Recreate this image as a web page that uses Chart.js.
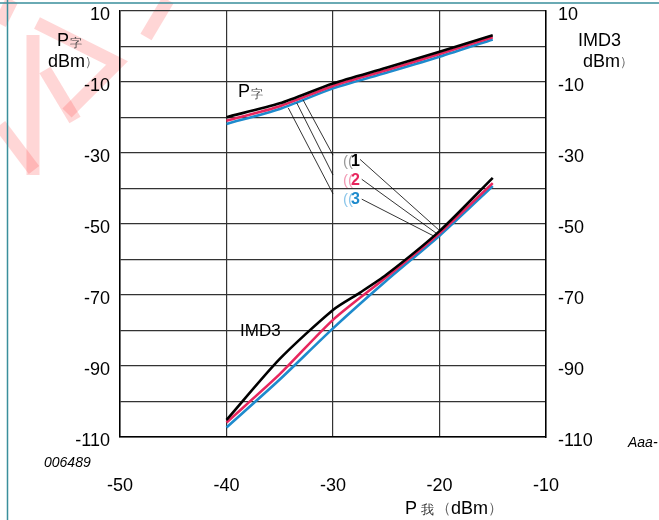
<!DOCTYPE html>
<html lang="zh">
<head>
<meta charset="UTF-8">
<title>Pout / IMD3 vs Pin</title>
<script src="https://cdn.jsdelivr.net/npm/chart.js@4"></script>
<style>
  body { margin: 0; background: #fff; }
</style>
</head>
<body>
<canvas id="chart" width="659" height="520"></canvas>
<script>
// P in (dBm)
const pinX = [-40, -35, -30, -25, -20, -15];
const pinXImd1 = [-40, -35, -30, -27.5, -25, -20, -15];

// Pout curves (1), (2), (3)
const pout1 = [-19.9, -16.0, -10.4, -6.0, -1.5, 3.2];
const pout2 = [-20.9, -16.8, -11.1, -6.7, -2.1, 2.6];
const pout3 = [-21.8, -17.6, -11.8, -7.4, -2.9, 2.0];

// IMD3 curves (1), (2), (3)
const imd1 = [-105.2, -88.0, -74.2, -69.4, -64.3, -52.0, -37.0];
const imd2 = [-105.9, -92.3, -77.0, -65.0, -52.6, -38.5];
const imd3 = [-107.3, -93.8, -79.4, -66.0, -53.3, -39.3];

const yTickLabels = [10, -10, -30, -50, -70, -90, -110];

// leader lines [x0, y0, x1, y1] in data units
const poutLeaders = [[-32.8, -15.1, -30, -30.6], [-33.4, -15.9, -30, -36.2], [-34.2, -17.3, -30, -41.5]];
const imdLeaders = [[-27.46, -31.8, -20.05, -51.7], [-27.3, -37.4, -20.3, -52.6], [-27.3, -43.0, -20.4, -53.6]];

const BLACK = '#000000', RED = '#e8265e', BLUE = '#1e8bcd';
const FONT = '"Liberation Sans", Arial, sans-serif';

const pts = (xs, ys) => xs.map((x, i) => ({ x: x, y: ys[i] }));
const curve = (data, color) => ({
    data: data, borderColor: color, borderWidth: 2.6, pointRadius: 0,
    tension: 0.25, fill: false
});
const leader = l => ({
    data: [{ x: l[0], y: l[1] }, { x: l[2], y: l[3] }],
    borderColor: '#000', borderWidth: 0.8, pointRadius: 0, fill: false
});
const noPad = s => { s.paddingTop = 0; s.paddingBottom = 0; s.paddingLeft = 0; s.paddingRight = 0; };

// text, frame and watermark
const extras = {
    id: 'extras',
    beforeDraw(chart) {
        const c = chart.ctx;
        c.save();
        c.fillStyle = '#fff';
        c.fillRect(0, 0, chart.width, chart.height);
        // watermark
        c.strokeStyle = 'rgba(255,70,70,0.22)';
        c.lineWidth = 13;
        c.lineCap = 'butt';
        const strokes = [
            [[37, 23], [117, 63], [67, 113]],
            [[168, 0], [146, 37]],
            [[12, 0], [0, 24]],
            [[33, 35], [33, 175]],
            [[0, 125], [34, 170]],
            [[45, 70], [75, 120]]
        ];
        strokes.forEach(s => {
            c.beginPath();
            c.moveTo(s[0][0], s[0][1]);
            for (let i = 1; i < s.length; i++) c.lineTo(s[i][0], s[i][1]);
            c.stroke();
        });
        // frame lines
        c.strokeStyle = '#3a8f9c';
        c.lineWidth = 1.5;
        c.beginPath();
        c.moveTo(0, 3); c.lineTo(chart.width, 3);
        c.moveTo(7.5, 0); c.lineTo(7.5, chart.height);
        c.stroke();
        c.restore();
    },
    afterDraw(chart) {
        const c = chart.ctx;
        c.save();
        c.textBaseline = 'middle';
        c.textAlign = 'left';
        const txt = (s, px, py, size, color, style) => {
            c.font = (style || '') + ' ' + size + 'px ' + FONT;
            c.fillStyle = color || '#000';
            c.fillText(s, px, py);
            return px + c.measureText(s).width;
        };
        // left axis title
        let e = txt('P', 57, 41, 18);
        txt('字', e + 1, 44, 12, '#444');
        e = txt('dBm', 48, 62, 18);
        txt('）', e, 62, 13, '#666');
        // right axis title
        txt('IMD3', 578, 41, 18);
        e = txt('dBm', 583, 62, 18);
        txt('）', e, 62, 13, '#666');
        // curve labels
        e = txt('P', 238, 92, 18);
        txt('字', e + 1, 95, 12, '#444');
        txt('IMD3', 240, 331, 17);
        // callouts
        const callout = [['1', BLACK, '#999'], ['2', RED, '#f29ab4'], ['3', BLUE, '#8cc6ea']];
        callout.forEach((k, i) => {
            const py = 162 + i * 19;
            e = txt('((', 343, py, 15, k[2]);
            txt(k[0], e - 2, py, 16, k[1], 'bold');
        });
        // figure id
        txt('Aaa-', 628, 443, 14, '#000', 'italic');
        txt('006489', 44, 463, 14, '#000', 'italic');
        // x axis title
        e = txt('P', 405, 509, 18);
        e = txt('我', e + 4, 510, 13, '#333');
        e = txt('（', e + 2, 509, 15, '#666');
        e = txt('dBm', e, 509, 18);
        txt('）', e, 509, 15, '#666');
        c.restore();
    }
};

new Chart(document.getElementById('chart'), {
    type: 'line',
    data: {
        datasets: [
            ...poutLeaders.map(leader),
            ...imdLeaders.map(leader),
            curve(pts(pinX, pout1), BLACK),
            curve(pts(pinXImd1, imd1), BLACK),
            curve(pts(pinX, pout2), RED),
            curve(pts(pinX, imd2), RED),
            curve(pts(pinX, pout3), BLUE),
            curve(pts(pinX, imd3), BLUE)
        ]
    },
    options: {
        responsive: false,
        animation: false,
        devicePixelRatio: 1,
        layout: { padding: { top: 11, right: 0, left: 0, bottom: 0 } },
        plugins: { legend: { display: false }, tooltip: { enabled: false } },
        scales: {
            x: {
                type: 'linear', min: -50, max: -10,
                ticks: { stepSize: 10, color: '#000', padding: 38, font: { size: 18, family: FONT } },
                grid: { color: '#333', lineWidth: 1.2, drawTicks: false },
                border: { color: '#000', width: 1.5 },
                afterFit: s => { s.height = 83; noPad(s); }
            },
            y: {
                position: 'left', min: -110, max: 10,
                ticks: {
                    stepSize: 10, color: '#000', padding: 10, labelOffset: 4,
                    font: { size: 18, family: FONT },
                    callback: v => yTickLabels.includes(v) ? String(v) : ''
                },
                grid: { color: '#333', lineWidth: 1.2, drawTicks: false },
                border: { color: '#000', width: 1.5 },
                afterFit: s => { s.width = 120; noPad(s); }
            },
            y2: {
                position: 'right', min: -110, max: 10,
                ticks: {
                    stepSize: 10, color: '#000', padding: 12, labelOffset: 4,
                    font: { size: 18, family: FONT },
                    callback: v => yTickLabels.includes(v) ? String(v) : ''
                },
                grid: { drawOnChartArea: false, drawTicks: false },
                border: { color: '#000', width: 1.5 },
                afterFit: s => { s.width = 113; noPad(s); }
            }
        }
    },
    plugins: [extras]
});
</script>
</body>
</html>
